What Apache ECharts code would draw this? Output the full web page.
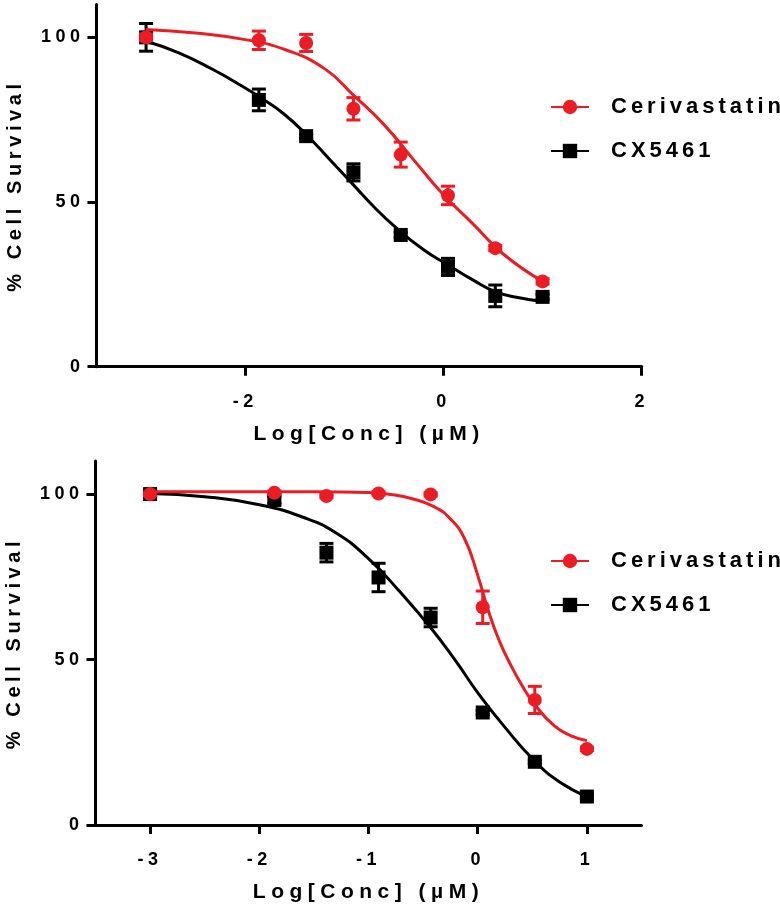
<!DOCTYPE html>
<html>
<head>
<meta charset="utf-8">
<style>
  html, body { margin: 0; padding: 0; background: #fff; }
  #chart { width: 780px; height: 913px; }
</style>
<script>
// Wide letter spacing as in the reference (applied to canvas text by font size)
(function () {
  var LS = { 18: 4.5, 20: 4.6, 21: 5.5, 22: 4 };
  function spacingFor(ctx) {
    var m = /(\d+(?:\.\d+)?)px/.exec(ctx.font);
    return m ? (LS[Math.round(parseFloat(m[1]))] || 0) : 0;
  }
  function patch(P) {
    if (!P) return;
    var f = P.fillText, st = P.strokeText, mt = P.measureText;
    P.fillText = function () { try { this.letterSpacing = spacingFor(this) + 'px'; } catch (e) {} return f.apply(this, arguments); };
    P.strokeText = function () { try { this.letterSpacing = spacingFor(this) + 'px'; } catch (e) {} return st.apply(this, arguments); };
    P.measureText = function (text) {
      try { this.letterSpacing = '0px'; } catch (e) {}
      var r = mt.apply(this, arguments);
      var s = spacingFor(this);
      var len = String(text).length;
      return {
        width: r.width + s * len,
        actualBoundingBoxAscent: r.actualBoundingBoxAscent,
        actualBoundingBoxDescent: r.actualBoundingBoxDescent,
        actualBoundingBoxLeft: r.actualBoundingBoxLeft,
        actualBoundingBoxRight: r.actualBoundingBoxRight + s * len,
        fontBoundingBoxAscent: r.fontBoundingBoxAscent,
        fontBoundingBoxDescent: r.fontBoundingBoxDescent
      };
    };
  }
  patch(window.CanvasRenderingContext2D && CanvasRenderingContext2D.prototype);
  patch(window.OffscreenCanvasRenderingContext2D && OffscreenCanvasRenderingContext2D.prototype);
})();
</script>
<script src="https://cdn.jsdelivr.net/npm/echarts@6/dist/echarts.min.js"></script>
</head>
<body>
<div id="chart"></div>
<script>
// ---------- DATA ----------
var seriesNames = ['Cerivastatin', 'CX5461'];
var xTitle = 'Log[Conc] (µM)';
var yTitle = '% Cell Survival';

// log concentrations of measured points (both panels)
var logConc = [-3, -1.862, -1.385, -0.908, -0.431, 0.046, 0.523, 1];

// Top panel measured means and error
var ceriTop = [100, 99.1, 98.3, 78.3, 64.4, 52.0, 36.0, 25.9];
var ceriTopErr = [1, 2.8, 2.6, 3.4, 3.8, 2.8, 0.8, 0.8];
var cxTop = [100, 81.0, 70.0, 59.0, 40.0, 30.3, 21.5, 21.2];
var cxTopErr = [4.2, 3.3, 0.6, 2.6, 0.8, 2.6, 3.3, 0.8];

// Bottom panel measured means and error
var ceriBot = [100, 100.4, 99.4, 100.2, 99.9, 65.8, 37.8, 23.0];
var ceriBotErr = [0.5, 0.5, 0.5, 0.5, 0.5, 4.9, 4.1, 0.5];
var cxBot = [100, 98.2, 82.3, 74.8, 62.7, 34.0, 19.1, 8.6];
var cxBotErr = [0.5, 1.0, 2.8, 4.3, 2.8, 0.6, 0.5, 0.5];

// Fitted curves
var ceriTopFitX = [-3, -2.5, -2, -1.6, -1.2, -0.9, -0.6, -0.3, 0, 0.3, 0.6, 1];
var ceriTopFitY = [102.4, 101.3, 99.3, 96.3, 90.5, 82.2, 73.5, 62.8, 52.2, 43.3, 34.3, 25.9];
var cxTopFitX = [-3, -2.67, -2.33, -2.06, -1.82, -1.6, -1.385, -1.15, -0.908, -0.7, -0.49, -0.2, 0.046, 0.3, 0.523, 0.75, 1];
var cxTopFitY = [98.8, 95.3, 90.3, 85.7, 81.2, 76.5, 70.5, 63.0, 55.2, 48.5, 42.5, 35.5, 30.9, 26.3, 22.8, 21.0, 19.8];

var ceriBotFitX = [-3, -2, -1.5, -1, -0.8, -0.6, -0.4, -0.25, -0.12, 0, 0.1, 0.2, 0.3, 0.4, 0.52, 0.7, 0.85, 1];
var ceriBotFitY = [100.7, 100.7, 100.7, 100.5, 99.9, 98.6, 96.2, 92.5, 86.5, 75.5, 64.5, 55.5, 48.5, 42.5, 36.5, 30.0, 27.0, 25.5];
var cxBotFitX = [-3, -2.5, -2, -1.6, -1.3, -1.0, -0.7, -0.43, -0.2, 0, 0.25, 0.52, 0.75, 1];
var cxBotFitY = [100.2, 99.2, 96.8, 93.0, 88.3, 80.5, 70.0, 59.6, 49.5, 40.0, 29.5, 19.4, 13.0, 8.6];

// axis ticks
var yTicks = [0, 50, 100];
var xTicksTop = [-2, 0, 2];
var xTicksBot = [-3, -2, -1, 0, 1];

// ---------- CHART ----------
var RED = '#EC1C24', BLACK = '#000000';
var FONT = '"Liberation Sans", Arial, Helvetica, sans-serif';

function zip(xs, ys) { return xs.map(function (x, i) { return [x, ys[i]]; }); }
function errData(xs, ys, es) { return xs.map(function (x, i) { return [x, ys[i] - es[i], ys[i] + es[i]]; }); }

function xAxisDef(gi, min, max, ticks) {
  return {
    type: 'value', gridIndex: gi, min: min, max: max,
    axisLine: { show: true, onZero: false, lineStyle: { color: BLACK, width: 3 } },
    axisTick: { show: true, length: 9, customValues: ticks, lineStyle: { color: BLACK, width: 3 } },
    axisLabel: { customValues: ticks, margin: 24, color: BLACK, fontSize: 18, fontWeight: 'bold', fontFamily: FONT },
    splitLine: { show: false },
    name: xTitle, nameLocation: 'middle', nameGap: 54,
    nameTextStyle: { color: BLACK, fontSize: 21, fontWeight: 'bold', fontFamily: FONT }
  };
}
function yAxisDef(gi) {
  return {
    type: 'value', gridIndex: gi, min: 0, max: 110,
    axisLine: { show: true, onZero: false, lineStyle: { color: BLACK, width: 3 } },
    axisTick: { show: true, length: 9, customValues: yTicks, lineStyle: { color: BLACK, width: 3 } },
    axisLabel: { customValues: yTicks, margin: 12, color: BLACK, fontSize: 18, fontWeight: 'bold', fontFamily: FONT },
    splitLine: { show: false },
    name: yTitle, nameLocation: 'middle', nameGap: 69,
    nameTextStyle: { color: BLACK, fontSize: 20, fontWeight: 'bold', fontFamily: FONT }
  };
}
function fitSeries(gi, name, xs, ys, color, symbol, z) {
  return {
    type: 'line', name: name, xAxisIndex: gi, yAxisIndex: gi,
    data: zip(xs, ys), smooth: 0.5,
    symbol: symbol, symbolSize: 14, showSymbol: false,
    lineStyle: { color: color, width: 3 }, itemStyle: { color: color },
    silent: true, z: z
  };
}
function errSeries(gi, name, xs, ys, es, color, z) {
  return {
    type: 'custom', name: name, xAxisIndex: gi, yAxisIndex: gi,
    data: errData(xs, ys, es), encode: { x: 0, y: [1, 2] }, silent: true, z: z,
    renderItem: function (params, api) {
      var x = api.value(0);
      var top = api.coord([x, api.value(2)]);
      var bot = api.coord([x, api.value(1)]);
      var hw = 7;
      var st = { stroke: color, lineWidth: 3 };
      return {
        type: 'group', children: [
          { type: 'line', shape: { x1: top[0], y1: top[1], x2: bot[0], y2: bot[1] }, style: st },
          { type: 'line', shape: { x1: top[0] - hw, y1: top[1], x2: top[0] + hw, y2: top[1] }, style: st },
          { type: 'line', shape: { x1: bot[0] - hw, y1: bot[1], x2: bot[0] + hw, y2: bot[1] }, style: st }
        ]
      };
    }
  };
}
function ptSeries(gi, name, xs, ys, color, symbol, z) {
  return {
    type: 'scatter', name: name, xAxisIndex: gi, yAxisIndex: gi,
    data: zip(xs, ys), symbol: symbol, symbolSize: 14,
    itemStyle: { color: color, opacity: 1 }, silent: true, z: z
  };
}
function legendDef(top) {
  return {
    orient: 'vertical', left: 545, top: top, itemWidth: 38, itemHeight: 18, itemGap: 18,
    data: seriesNames, selectedMode: false,
    textStyle: { color: BLACK, fontSize: 22, fontWeight: 'bold', fontFamily: FONT, padding: [0, 0, 0, 17] }
  };
}

var option = {
  animation: false,
  backgroundColor: '#fff',
  grid: [
    { left: 96.5, right: 138.3, top: 4.4, bottom: 546.3, containLabel: false, outerBoundsMode: 'none' },
    { left: 95.5, right: 138.5, top: 461, bottom: 88, containLabel: false, outerBoundsMode: 'none' }
  ],
  xAxis: [xAxisDef(0, -3.5, 2, xTicksTop), xAxisDef(1, -3.5, 1.5, xTicksBot)],
  yAxis: [yAxisDef(0), yAxisDef(1)],
  legend: [legendDef(89), legendDef(543)],
  series: [
    fitSeries(0, 'CX5461', cxTopFitX, cxTopFitY, BLACK, 'rect', 2),
    errSeries(0, 'CX5461 error', logConc, cxTop, cxTopErr, BLACK, 3),
    ptSeries(0, 'CX5461 data', logConc, cxTop, BLACK, 'rect', 4),
    fitSeries(0, 'Cerivastatin', ceriTopFitX, ceriTopFitY, RED, 'circle', 5),
    errSeries(0, 'Cerivastatin error', logConc, ceriTop, ceriTopErr, RED, 6),
    ptSeries(0, 'Cerivastatin data', logConc, ceriTop, RED, 'circle', 7),

    fitSeries(1, 'CX5461', cxBotFitX, cxBotFitY, BLACK, 'rect', 2),
    errSeries(1, 'CX5461 error', logConc, cxBot, cxBotErr, BLACK, 3),
    ptSeries(1, 'CX5461 data', logConc, cxBot, BLACK, 'rect', 4),
    fitSeries(1, 'Cerivastatin', ceriBotFitX, ceriBotFitY, RED, 'circle', 5),
    errSeries(1, 'Cerivastatin error', logConc, ceriBot, ceriBotErr, RED, 6),
    ptSeries(1, 'Cerivastatin data', logConc, ceriBot, RED, 'circle', 7)
  ]
};

var chart = echarts.init(document.getElementById('chart'), null, { renderer: 'canvas' });
chart.setOption(option);
</script>
</body>
</html>
